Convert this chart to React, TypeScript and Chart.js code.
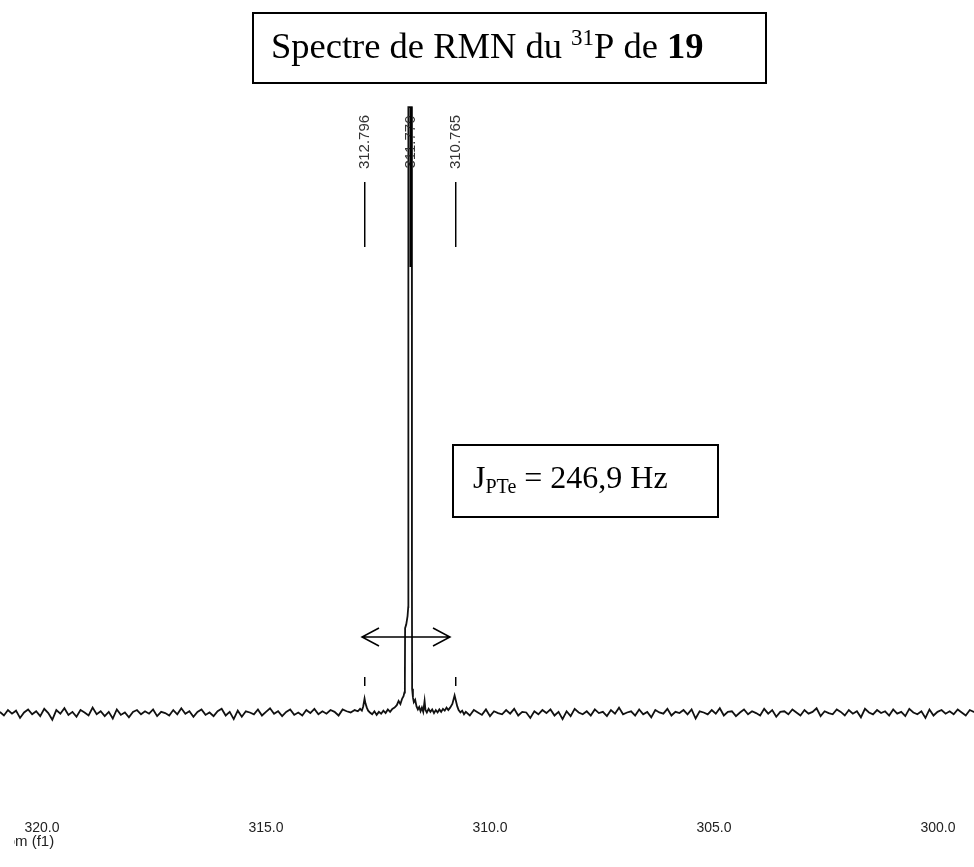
import React, { useEffect, useRef } from "react";
import { Chart, registerables } from "chart.js";

Chart.register(...registerables);

// x axis (ppm), reversed like an NMR spectrum
const xMin = 299.196;
const xMax = 320.9375;
const tickValues = [320, 315, 310, 305, 300];
const axisUnitLabel = "ppm (f1)";

// annotated peaks (ppm)
const peakLabels = [312.796, 311.77, 310.765];
const satelliteMarks = [312.796, 310.765];

// baseline noise left of the signal
const leftNoiseStart = 320.94;
const noiseStep = 0.09;
const leftNoise = [
  0.2, -0.4, 0.5, -0.1, 0.4, -0.8, 0.1, 0.6, -0.2, 0.3,
  -0.5, 0.7, 0.0, -1.1, 0.5, -0.1, 0.8, -0.3, 0.2, -0.6,
  0.5, 0.1, -0.4, 0.9, -0.2, 0.3, -0.5, 0.2, -0.9, 0.6,
  -0.3, 0.1, -0.7, 0.2, 0.5, -0.2, 0.3, -0.1, 0.6, -0.5,
  0.2, 0.0, -0.4, 0.5, -0.2, 0.8, -0.1, 0.3, -0.6, 0.2,
  0.6, -0.3, 0.1, -0.5, 0.3, 0.7, -0.4, 0.2, -1.0, 0.4,
  -0.6, 0.3, 0.1, -0.2, 0.6, -0.4, 0.2, 0.8, -0.1, 0.3,
  -0.5, 0.2, 0.6, -0.3, 0.1, -0.4, 0.5, 0.0, 0.7, -0.2,
  0.3, -0.1, 0.5, 0.2, -0.4, 0.6, 0.3, 0.1, 0.5,
];

// signal region: Te satellites + main 31P peak
const peakPpm = [
  312.95, 312.9, 312.86, 312.83, 312.8, 312.78, 312.75, 312.72, 312.68, 312.63,
  312.58, 312.53, 312.48, 312.43, 312.38, 312.33, 312.28, 312.23, 312.18, 312.13,
  312.08, 312.04, 312.0, 311.96, 311.93, 311.91, 311.9, 311.895, 311.87, 311.84,
  311.825, 311.822, 311.745, 311.742, 311.738, 311.72, 311.7, 311.67, 311.64, 311.61,
  311.58, 311.55, 311.52, 311.49, 311.46, 311.44, 311.41, 311.37, 311.33, 311.29,
  311.25, 311.21, 311.17, 311.13, 311.09, 311.05, 311.01, 310.97, 310.93, 310.89,
  310.84, 310.79, 310.76, 310.73, 310.7, 310.66, 310.62, 310.58,
];
const peakInt = [
  0.3, 0.7, 0.4, 1.1, 2.4, 1.6, 0.9, 0.4, 0.1, -0.2,
  0.3, -0.3, 0.2, -0.1, 0.4, 0.0, 0.6, 0.2, 0.7, 0.9,
  1.3, 2.0, 1.5, 2.4, 2.8, 3.4, 5.0, 14.0, 14.6, 16.0,
  17.5, 100, 100, 20, 4.0, 2.6, 1.8, 2.2, 1.1, 0.6,
  1.0, 0.3, 0.9, 0.2, 2.0, 0.5, 0.1, 0.7, 0.2, 0.6,
  0.0, 0.5, 0.1, 0.6, 0.2, 0.7, 0.4, 0.9, 0.5, 0.9,
  1.5, 2.9, 2.0, 1.1, 0.5, 0.1, 0.4, -0.2,
];

// baseline noise right of the signal
const rightNoiseStart = 310.54;
const rightNoise = [
  0.2, -0.4, 0.5, 0.1, -0.3, 0.6, -0.5, 0.3, 0.0, -0.2,
  0.5, -0.1, 0.7, -0.4, 0.2, 0.1, -0.8, 0.3, -0.2, 0.5,
  0.0, 0.6, -0.4, 0.2, -1.0, 0.3, -0.5, 0.7, 0.1, -0.2,
  0.3, -0.4, 0.6, 0.0, 0.2, -0.5, 0.5, -0.1, 0.9, -0.2,
  0.1, 0.3, -0.4, 0.6, -0.2, 0.2, -0.7, 0.5, 0.1, -0.1,
  0.7, -0.4, 0.2, 0.0, 0.5, -0.2, 0.6, -0.9, 0.3, 0.1,
  -0.2, 0.5, -0.1, 0.8, -0.4, 0.2, 0.3, -0.5, 0.1, 0.6,
  -0.2, 0.3, 0.0, -0.4, 0.7, -0.1, 0.5, -0.6, 0.2, 0.3,
  -0.2, 0.6, 0.1, -0.4, 0.5, -0.1, 0.2, 0.8, -0.5, 0.3,
  0.0, -0.2, 0.6, 0.2, -0.4, 0.5, -0.1, 0.3, -0.7, 0.7,
  0.1, -0.2, 0.5, 0.0, 0.3, -0.4, 0.6, -0.1, 0.2, -0.5,
  0.7, 0.1, -0.2, 0.3, -0.8, 0.6, -0.4, 0.2, 0.5, -0.1,
  0.3, -0.2, 0.6, 0.1, -0.4, 0.5, 0.2, 0.0,
];

const SERIF = '"Liberation Serif", "Times New Roman", serif';
const SANS = '"Liberation Sans", Arial, sans-serif';

const annotations = {
  id: "nmrAnnotations",
  afterDraw(chart: any) {
    const ctx = chart.ctx as CanvasRenderingContext2D;
    const xs = chart.scales.x;
    ctx.save();
    ctx.fillStyle = "#000";
    ctx.strokeStyle = "#000";

    // title box
    ctx.lineWidth = 2;
    ctx.strokeRect(253, 13, 513, 70);
    ctx.textBaseline = "alphabetic";
    ctx.textAlign = "left";
    let x = 271;
    const by = 58;
    const parts: [string, string, number][] = [
      ["Spectre de RMN du ", `36.5px ${SERIF}`, 0],
      ["31", `23px ${SERIF}`, -13],
      ["P de ", `36.5px ${SERIF}`, 0],
      ["19", `bold 36.5px ${SERIF}`, 0],
    ];
    for (const [t, f, dy] of parts) {
      ctx.font = f;
      ctx.fillText(t, x, by + dy);
      x += ctx.measureText(t).width;
    }

    // coupling constant box
    ctx.strokeRect(453, 445, 265, 72);
    const jparts: [string, string, number][] = [
      ["J", `32px ${SERIF}`, 0],
      ["PTe", `20px ${SERIF}`, 5],
      [" = 246,9 Hz", `32px ${SERIF}`, 0],
    ];
    x = 473;
    for (const [t, f, dy] of jparts) {
      ctx.font = f;
      ctx.fillText(t, x, 488 + dy);
      x += ctx.measureText(t).width;
    }

    // double arrow
    ctx.lineWidth = 1.5;
    ctx.beginPath();
    ctx.moveTo(362, 637);
    ctx.lineTo(450, 637);
    ctx.moveTo(379, 628);
    ctx.lineTo(362, 637);
    ctx.lineTo(379, 646);
    ctx.moveTo(433, 628);
    ctx.lineTo(450, 637);
    ctx.lineTo(433, 646);
    ctx.stroke();

    // peak labels
    peakLabels.forEach((v, i) => {
      const px = xs.getPixelForValue(v);
      ctx.save();
      ctx.translate(px, 142);
      ctx.rotate(-Math.PI / 2);
      ctx.font = `15px ${SANS}`;
      ctx.fillStyle = "#333";
      ctx.textAlign = "center";
      ctx.textBaseline = "middle";
      ctx.fillText(v.toFixed(3), 0, 0);
      ctx.restore();
      ctx.beginPath();
      if (i === 1) {
        ctx.lineWidth = 2.5;
        ctx.moveTo(px, 107);
        ctx.lineTo(px, 267);
      } else {
        ctx.lineWidth = 1.5;
        ctx.moveTo(px, 182);
        ctx.lineTo(px, 247);
      }
      ctx.stroke();
    });

    // satellite markers
    ctx.lineWidth = 1.5;
    satelliteMarks.forEach((v) => {
      const px = xs.getPixelForValue(v);
      ctx.beginPath();
      ctx.moveTo(px, 677);
      ctx.lineTo(px, 686);
      ctx.stroke();
    });

    // axis unit (its start is cropped off, as in the original)
    ctx.save();
    ctx.font = `15px ${SANS}`;
    const cut = ctx.measureText("pp").width;
    ctx.beginPath();
    ctx.rect(14, 828, 120, 39);
    ctx.clip();
    ctx.fillStyle = "#222";
    ctx.textAlign = "left";
    ctx.textBaseline = "middle";
    ctx.fillText(axisUnitLabel, 15 - cut, 842);
    ctx.restore();
    ctx.restore();
  },
};

export default function App() {
  const ref = useRef<HTMLCanvasElement>(null);
  useEffect(() => {
    document.body.style.margin = "0";
    const points = [
      ...leftNoise.map((v, i) => ({ x: leftNoiseStart - i * noiseStep, y: v })),
      ...peakPpm.map((p, i) => ({ x: p, y: peakInt[i] })),
      ...rightNoise.map((v, i) => ({ x: rightNoiseStart - i * noiseStep, y: v })),
    ];
    const chart = new Chart(ref.current!, {
      type: "line",
      data: {
        datasets: [
          {
            data: points,
            borderColor: "#111",
            borderWidth: 1.8,
            pointRadius: 0,
            tension: 0,
            fill: false,
          },
        ],
      },
      options: {
        animation: false,
        responsive: false,
        devicePixelRatio: 1,
        layout: { padding: { top: 101, bottom: 15, left: 0, right: 0 } },
        plugins: { legend: { display: false }, tooltip: { enabled: false } },
        scales: {
          x: {
            type: "linear",
            reverse: true,
            min: xMin,
            max: xMax,
            grid: { display: false, drawTicks: false },
            border: { display: false },
            afterBuildTicks: (scale: any) => {
              scale.ticks = tickValues.map((v) => ({ value: v }));
            },
            ticks: {
              autoSkip: false,
              maxRotation: 0,
              padding: 15,
              color: "#222",
              font: { family: SANS, size: 14 },
              callback: (v: any) => Number(v).toFixed(1),
            },
          },
          y: { display: false, min: -15.2, max: 101 },
        },
      },
      plugins: [annotations],
    });
    return () => chart.destroy();
  }, []);
  return <canvas ref={ref} width={974} height={867} style={{ display: "block" }} />;
}
